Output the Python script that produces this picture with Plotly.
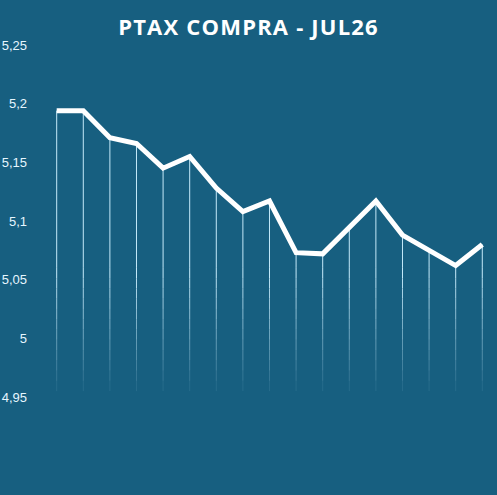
import plotly.graph_objects as go

# PTAX compra - julho/26
dias = ["01", "02", "03", "06", "07", "08", "09", "10", "13", "14",
        "15", "16", "17", "20", "21", "22", "23"]
ptax = [5.194, 5.194, 5.171, 5.166, 5.145, 5.155, 5.128, 5.108, 5.117, 5.073,
        5.072, 5.094, 5.117, 5.088, 5.075, 5.062, 5.080]
y_ticks = [4.95, 5.0, 5.05, 5.1, 5.15, 5.2, 5.25]
y_labels = ["4,95", "5", "5,05", "5,1", "5,15", "5,2", "5,25"]

fundo = "#175f80"
base = 4.955
inicio_fade = 5.06

fig = go.Figure()

# linhas verticais ate a base, com um degrade no final
xs, ys = [], []
for d, v in zip(dias, ptax):
    xs += [d, d, None]
    ys += [v, inicio_fade, None]
fig.add_trace(go.Scatter(x=xs, y=ys, mode="lines", hoverinfo="skip",
                         line=dict(color="rgba(205,240,255,0.95)", width=1)))

passos = 12
for i in range(passos):
    y0 = inicio_fade - (inicio_fade - base) * i / passos
    y1 = inicio_fade - (inicio_fade - base) * (i + 1) / passos
    alpha = 0.95 * (1 - (i + 0.5) / passos) + 0.05
    xs, ys = [], []
    for d in dias:
        xs += [d, d, None]
        ys += [y0, y1, None]
    fig.add_trace(go.Scatter(x=xs, y=ys, mode="lines", hoverinfo="skip",
                             line=dict(color=f"rgba(205,240,255,{alpha:.2f})", width=1)))

fig.add_trace(go.Scatter(x=dias, y=ptax, mode="lines",
                         line=dict(color="white", width=5)))

titulo = '<span style="letter-spacing:1.2px">PTAX COMPRA - JUL26</span>'

fig.update_layout(
    width=497, height=495,
    paper_bgcolor=fundo, plot_bgcolor=fundo,
    margin=dict(l=34, r=0, t=0, b=0),
    showlegend=False,
    title=dict(text="<b>" + titulo + "</b>", x=0.5, xanchor="center",
               yref="container", y=0.945, yanchor="middle",
               font=dict(family="Open Sans", size=22, color="white")),
    xaxis=dict(type="category", range=[-0.853, 16.553], showgrid=False,
               zeroline=False, showticklabels=False, showline=False),
    yaxis=dict(range=[4.8665, 5.2883], tickvals=y_ticks, ticktext=y_labels,
               showgrid=False, zeroline=False, showline=False,
               ticklabelstandoff=6,
               tickfont=dict(family="Liberation Sans", size=13,
                             color="#e6f6ff")),
)

fig.write_html("out.html", config={"displayModeBar": False},
               post_script="document.body.style.margin='0';")
